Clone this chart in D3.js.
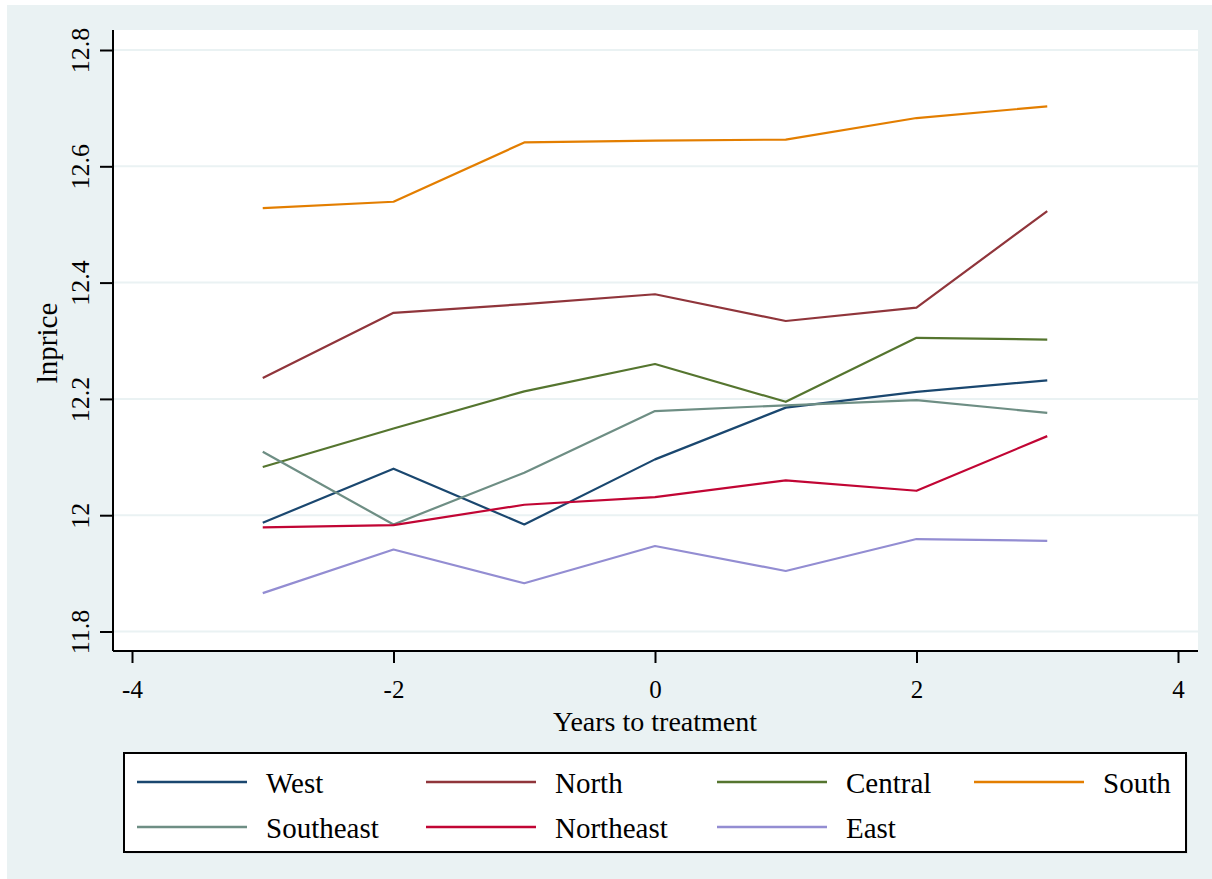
<!DOCTYPE html>
<html>
<head>
<meta charset="utf-8">
<script src="https://cdn.jsdelivr.net/npm/d3@7"></script>
<style>
  html, body { margin: 0; padding: 0; background: #ffffff; }
  svg { display: block; }
  text { font-family: "Liberation Serif", "Times New Roman", serif; fill: #000; }
</style>
</head>
<body>
<svg id="chart" width="1212" height="879"></svg>
<script>
// Years relative to treatment
const years = [-3, -2, -1, 0, 1, 2, 3];

// Mean log price by region
const regions = ["West", "North", "Central", "South", "Southeast", "Northeast", "East"];
const west      = [11.987, 12.080, 11.984, 12.096, 12.185, 12.212, 12.232];
const north     = [12.236, 12.348, 12.363, 12.380, 12.334, 12.357, 12.523];
const central   = [12.083, 12.149, 12.213, 12.260, 12.195, 12.305, 12.302];
const south     = [12.528, 12.539, 12.641, 12.644, 12.646, 12.683, 12.703];
const southeast = [12.109, 11.984, 12.073, 12.179, 12.189, 12.198, 12.176];
const northeast = [11.979, 11.983, 12.018, 12.031, 12.060, 12.042, 12.136];
const east      = [11.866, 11.941, 11.883, 11.947, 11.904, 11.959, 11.956];

const xTicks = [-4, -2, 0, 2, 4];
const yTicks = [11.8, 12, 12.2, 12.4, 12.6, 12.8];

const seriesValues = [west, north, central, south, southeast, northeast, east];
const colors = ["#1a476f", "#90353b", "#55752f", "#e37e00", "#6e8e84", "#c10534", "#938dd2"];

const svg = d3.select("#chart");

// Graph region background
svg.append("rect").attr("x", 7).attr("y", 5).attr("width", 1205).attr("height", 874)
  .attr("fill", "#eaf2f3");

// Plot region
const plot = { left: 113, right: 1198, top: 30, bottom: 651 };
svg.append("rect")
  .attr("x", plot.left).attr("y", plot.top)
  .attr("width", plot.right - plot.left).attr("height", plot.bottom - plot.top)
  .attr("fill", "#ffffff");

const x = d3.scaleLinear().domain([-4, 4]).range([132, 1178]);
const y = d3.scaleLinear().domain([11.8, 12.8]).range([631.5, 50]);

// Horizontal gridlines
svg.append("g").selectAll("line").data(yTicks).join("line")
  .attr("x1", plot.left + 1).attr("x2", plot.right)
  .attr("y1", d => y(d)).attr("y2", d => y(d))
  .attr("stroke", "#eaf2f3").attr("stroke-width", 2);

// Y axis
const yAxis = svg.append("g").attr("transform", `translate(${plot.left},0)`)
  .call(d3.axisLeft(y).tickValues(yTicks).tickSize(13).tickPadding(0)
    .tickFormat(d => d3.format("~g")(d)));
yAxis.select(".domain").attr("d", `M0,${plot.top}V${plot.bottom}`)
  .attr("stroke", "#000").attr("stroke-width", 2);
yAxis.selectAll(".tick line").attr("stroke", "#000").attr("stroke-width", 2);
yAxis.selectAll(".tick text")
  .attr("font-size", 26).attr("font-family", "Liberation Serif")
  .attr("text-anchor", "middle")
  .attr("x", null).attr("dy", null)
  .attr("transform", "translate(-24,0) rotate(-90)");

// X axis
const xAxis = svg.append("g").attr("transform", `translate(0,${plot.bottom})`)
  .call(d3.axisBottom(x).tickValues(xTicks).tickSize(12).tickPadding(0)
    .tickFormat(d3.format("d")));
xAxis.select(".domain").attr("d", `M${plot.left},0H${plot.right}`)
  .attr("stroke", "#000").attr("stroke-width", 2);
xAxis.selectAll(".tick line").attr("stroke", "#000").attr("stroke-width", 2);
xAxis.selectAll(".tick text")
  .attr("font-size", 25).attr("font-family", "Liberation Serif")
  .attr("y", 47).attr("dy", null)
  .text(d => d < 0 ? "-" + Math.abs(d) : d);

// Axis titles
svg.append("text").attr("x", 655).attr("y", 731)
  .attr("text-anchor", "middle").attr("font-size", 28)
  .text("Years to treatment");
svg.append("text")
  .attr("transform", "translate(57,343) rotate(-90)")
  .attr("text-anchor", "middle").attr("font-size", 29)
  .text("lnprice");

// Series lines
const line = d3.line().x((d, i) => x(years[i])).y(d => y(d));
svg.append("g").selectAll("path").data(seriesValues).join("path")
  .attr("d", d => line(d))
  .attr("fill", "none")
  .attr("stroke", (d, i) => colors[i])
  .attr("stroke-width", 2.2)
  .attr("stroke-linejoin", "round");

// Legend
const legend = svg.append("g");
legend.append("rect").attr("x", 126).attr("y", 755).attr("width", 1062).attr("height", 99)
  .attr("fill", "#dfe6e7");
legend.append("rect").attr("x", 124).attr("y", 753).attr("width", 1062).attr("height", 99)
  .attr("fill", "#ffffff").attr("stroke", "#000").attr("stroke-width", 2);

const colX = [137, 426, 717, 974];
const rowY = [782, 827];
regions.forEach((name, i) => {
  const cx = colX[i % 4];
  const cy = rowY[Math.floor(i / 4)];
  legend.append("line")
    .attr("x1", cx).attr("x2", cx + 110)
    .attr("y1", cy).attr("y2", cy)
    .attr("stroke", colors[i]).attr("stroke-width", 2.5);
  legend.append("text")
    .attr("x", cx + 129).attr("y", cy + 11)
    .attr("font-size", 29)
    .text(name);
});
</script>
</body>
</html>
